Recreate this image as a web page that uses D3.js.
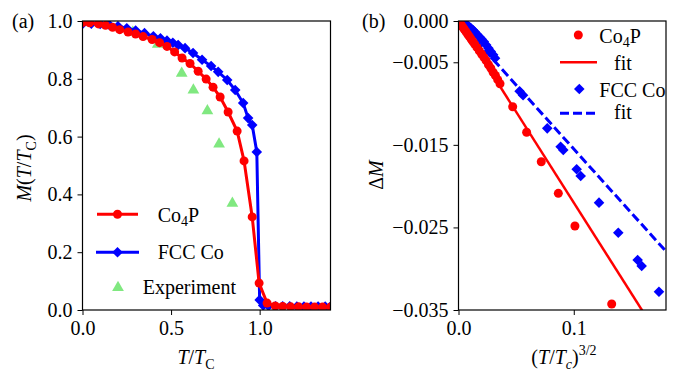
<!DOCTYPE html>
<html>
<head>
<meta charset="utf-8">
<script src="https://cdn.jsdelivr.net/npm/d3@7"></script>
<style>
  body { margin: 0; background: #fff; }
  svg { display: block; }
</style>
</head>
<body>
<div id="chart"></div>
<script>
// ---- panel (a): M(T/Tc) ----
const co4pT = [0.00, 0.04, 0.09, 0.13, 0.17, 0.21, 0.257, 0.30, 0.342, 0.393, 0.435, 0.477, 0.52, 0.562, 0.607, 0.653, 0.698, 0.737, 0.777, 0.822, 0.873, 0.912, 0.958, 0.997, 1.042, 1.088, 1.13, 1.175, 1.22, 1.265, 1.31, 1.355, 1.40]
const co4pM = [0.995, 0.994, 0.99, 0.985, 0.978, 0.97, 0.962, 0.955, 0.946, 0.936, 0.925, 0.912, 0.893, 0.872, 0.853, 0.826, 0.799, 0.771, 0.737, 0.685, 0.619, 0.516, 0.322, 0.093, 0.024, 0.014, 0.012, 0.011, 0.011, 0.010, 0.010, 0.010, 0.010]

const fccT = [0.00, 0.05, 0.10, 0.15, 0.20, 0.25, 0.30, 0.35, 0.40, 0.44, 0.477, 0.51, 0.54, 0.579, 0.624, 0.675, 0.726, 0.766, 0.817, 0.862, 0.907, 0.935, 0.958, 0.984, 1.00, 1.02, 1.05, 1.09, 1.13, 1.17, 1.21, 1.25, 1.29, 1.33, 1.37, 1.40]
const fccM = [0.990, 0.991, 0.990, 0.987, 0.982, 0.975, 0.967, 0.958, 0.947, 0.94, 0.932, 0.925, 0.917, 0.906, 0.889, 0.866, 0.844, 0.824, 0.796, 0.761, 0.716, 0.664, 0.640, 0.547, 0.035, 0.016, 0.014, 0.013, 0.013, 0.013, 0.012, 0.012, 0.012, 0.012, 0.012, 0.012]

const expT = [0.137, 0.284, 0.425, 0.560, 0.626, 0.705, 0.771, 0.846]
const expM = [0.994, 0.961, 0.919, 0.819, 0.761, 0.689, 0.574, 0.369]

const aXTicks = [0, 0.5, 1.0]
const aYTicks = [0, 0.2, 0.4, 0.6, 0.8, 1.0]

// ---- panel (b): Delta M vs (T/Tc)^(3/2) ----
const co4pX = [0.0005, 0.001, 0.002, 0.003, 0.004, 0.005, 0.0065, 0.008, 0.0095, 0.011, 0.0125, 0.014, 0.016, 0.018, 0.020, 0.022, 0.024, 0.026, 0.028, 0.030, 0.032, 0.034, 0.036, 0.047, 0.0591, 0.0718, 0.0866, 0.101, 0.1329]
const co4pD = [-0.0001, -0.0002, -0.0004, -0.0006, -0.0008, -0.001, -0.0013, -0.0016, -0.0019, -0.0022, -0.0025, -0.0028, -0.0032, -0.0036, -0.0040, -0.0044, -0.0048, -0.0053, -0.0057, -0.0062, -0.0066, -0.0071, -0.0076, -0.01038, -0.01348, -0.01704, -0.02087, -0.02483, -0.03427]

const fccX = [0.0005, 0.001, 0.002, 0.003, 0.004, 0.005, 0.0065, 0.008, 0.0095, 0.011, 0.0125, 0.014, 0.016, 0.018, 0.020, 0.022, 0.024, 0.026, 0.028, 0.030, 0.0317, 0.053, 0.056, 0.077, 0.0886, 0.0909, 0.1025, 0.106, 0.1219, 0.1386, 0.1554, 0.1589, 0.1739]
const fccD = [-0.00001, -0.00002, -0.00007, -0.00013, -0.0002, -0.00028, -0.0004, -0.00056, -0.00072, -0.0009, -0.0011, -0.0013, -0.0016, -0.0019, -0.0022, -0.0025, -0.0029, -0.0033, -0.0037, -0.0041, -0.0045, -0.0085, -0.0090, -0.0130, -0.01522, -0.01562, -0.01796, -0.01877, -0.0220, -0.02564, -0.02894, -0.02967, -0.03278]

// fit lines: endpoints (x, dM)
const co4pFitX = [0, 0.18]
const co4pFitD = [0, -0.0396]
const fccFitX = [0, 0.18]
const fccFitD = [0, -0.0279]

const bXTicks = [0, 0.1]
const bYTicks = [0, -0.005, -0.015, -0.025, -0.035]

const red = '#ff0000'
const blue = '#0000ff'
const green = '#80e880'
const fontSize = 20
const serif = 'Liberation Serif'

const width = 689
const height = 375

const svg = d3.select('#chart').append('svg')
  .attr('width', width)
  .attr('height', height)
  .attr('font-family', serif)

const diamond = d3.symbol().type(d3.symbolSquare).size(56)
const triangle = d3.symbol().type(d3.symbolTriangle).size(60)

const styleAxis = (g) => {
  g.attr('font-family', serif).attr('font-size', fontSize)
  g.select('.domain').remove()
  g.selectAll('.tick line').attr('stroke', '#000').attr('stroke-width', 1)
  g.selectAll('.tick text')
    .attr('fill', '#000')
    .attr('font-family', serif)
    .attr('font-size', fontSize)
}

const addText = (x, y, str) =>
  svg.append('text')
    .attr('x', x).attr('y', y)
    .attr('font-family', serif)
    .attr('font-size', fontSize)
    .text(str)

const frame = (x0, x1, y0, y1) => {
  svg.append('rect')
    .attr('x', x0).attr('y', y1)
    .attr('width', x1 - x0).attr('height', y0 - y1)
    .attr('fill', 'none').attr('stroke', '#000').attr('stroke-width', 1.2)
}

// ================= panel (a) =================
const ax = d3.scaleLinear().domain([0, 1.4]).range([82.5, 330.5])
const ay = d3.scaleLinear().domain([0, 1]).range([310, 21])

svg.append('clipPath').attr('id', 'clipA')
  .append('rect').attr('x', 82.5).attr('y', 21).attr('width', 248).attr('height', 289)

const gA = svg.append('g').attr('clip-path', 'url(#clipA)')
const aLine = d3.line().x((d) => ax(d[0])).y((d) => ay(d[1]))

const fccA = fccT.map((t, i) => [t, fccM[i]])
const co4pA = co4pT.map((t, i) => [t, co4pM[i]])
const expA = expT.map((t, i) => [t, expM[i]])

gA.selectAll('.expTri').data(expA).join('path')
  .attr('class', 'expTri')
  .attr('d', triangle)
  .attr('transform', (d) => `translate(${ax(d[0])},${ay(d[1])})`)
  .attr('fill', green)

gA.append('path').datum(fccA)
  .attr('fill', 'none').attr('stroke', blue).attr('stroke-width', 3)
  .attr('d', aLine)
gA.selectAll('.fccA').data(fccA).join('path')
  .attr('class', 'fccA')
  .attr('d', diamond)
  .attr('transform', (d) => `translate(${ax(d[0])},${ay(d[1])}) rotate(45)`)
  .attr('fill', blue)

gA.append('path').datum(co4pA)
  .attr('fill', 'none').attr('stroke', red).attr('stroke-width', 3)
  .attr('d', aLine)
gA.selectAll('.co4pA').data(co4pA).join('circle')
  .attr('class', 'co4pA')
  .attr('cx', (d) => ax(d[0]))
  .attr('cy', (d) => ay(d[1]))
  .attr('r', 4.5)
  .attr('fill', red)

svg.append('g')
  .attr('transform', 'translate(0,310)')
  .call(d3.axisBottom(ax).tickValues(aXTicks).tickFormat(d3.format('.1f')).tickSize(5).tickPadding(6))
  .call(styleAxis)
svg.append('g')
  .attr('transform', 'translate(82.5,0)')
  .call(d3.axisLeft(ay).tickValues(aYTicks).tickFormat(d3.format('.1f')).tickSize(5).tickPadding(5))
  .call(styleAxis)
frame(82.5, 330.5, 310, 21)

// panel (a) labels
addText(12, 28, '(a)')

const yLabA = svg.append('text')
  .attr('transform', 'translate(31,168) rotate(-90)')
  .attr('text-anchor', 'middle')
  .attr('font-size', fontSize)
yLabA.append('tspan').attr('font-style', 'italic').text('M')
yLabA.append('tspan').text('(')
yLabA.append('tspan').attr('font-style', 'italic').text('T')
yLabA.append('tspan').text('/')
yLabA.append('tspan').attr('font-style', 'italic').text('T')
yLabA.append('tspan').attr('dy', 5).attr('font-size', 14).text('C')
yLabA.append('tspan').attr('dy', -5).text(')')

const xLabA = svg.append('text')
  .attr('x', 196).attr('y', 364)
  .attr('text-anchor', 'middle')
  .attr('font-size', fontSize)
xLabA.append('tspan').attr('font-style', 'italic').text('T')
xLabA.append('tspan').text('/')
xLabA.append('tspan').attr('font-style', 'italic').text('T')
xLabA.append('tspan').attr('dy', 5).attr('font-size', 14).text('C')

// panel (a) legend
svg.append('line').attr('x1', 97).attr('x2', 138).attr('y1', 214.3).attr('y2', 214.3)
  .attr('stroke', red).attr('stroke-width', 3)
svg.append('circle').attr('cx', 117.5).attr('cy', 214.3).attr('r', 4.5).attr('fill', red)
const legCo = addText(157.7, 221.5, '')
legCo.append('tspan').text('Co')
legCo.append('tspan').attr('dy', 4).attr('font-size', 14).text('4')
legCo.append('tspan').attr('dy', -4).text('P')

svg.append('line').attr('x1', 96).attr('x2', 139).attr('y1', 252.3).attr('y2', 252.3)
  .attr('stroke', blue).attr('stroke-width', 3)
svg.append('path').attr('d', diamond)
  .attr('transform', 'translate(117.5,252.3) rotate(45)').attr('fill', blue)
addText(157.7, 259.3, 'FCC Co')

svg.append('path').attr('d', triangle)
  .attr('transform', 'translate(118,287.5)').attr('fill', green)
addText(142.7, 294.3, 'Experiment')

// ================= panel (b) =================
const bx = d3.scaleLinear().domain([0, 0.18]).range([458.5, 666])
const by = d3.scaleLinear().domain([-0.035, 0]).range([310, 21])

svg.append('clipPath').attr('id', 'clipB')
  .append('rect').attr('x', 458.5).attr('y', 21).attr('width', 207.5).attr('height', 289)

const gB = svg.append('g').attr('clip-path', 'url(#clipB)')
const bLine = d3.line().x((d) => bx(d[0])).y((d) => by(d[1]))

const co4pB = co4pX.map((x, i) => [x, co4pD[i]])
const fccB = fccX.map((x, i) => [x, fccD[i]])

gB.append('path').datum(fccFitX.map((x, i) => [x, fccFitD[i]]))
  .attr('fill', 'none').attr('stroke', blue).attr('stroke-width', 3)
  .attr('stroke-dasharray', '9,4')
  .attr('d', bLine)
gB.selectAll('.fccB').data(fccB).join('path')
  .attr('class', 'fccB')
  .attr('d', diamond)
  .attr('transform', (d) => `translate(${bx(d[0])},${by(d[1])}) rotate(45)`)
  .attr('fill', blue)

gB.append('path').datum(co4pFitX.map((x, i) => [x, co4pFitD[i]]))
  .attr('fill', 'none').attr('stroke', red).attr('stroke-width', 2.5)
  .attr('d', bLine)
gB.selectAll('.co4pB').data(co4pB).join('circle')
  .attr('class', 'co4pB')
  .attr('cx', (d) => bx(d[0]))
  .attr('cy', (d) => by(d[1]))
  .attr('r', 4.5)
  .attr('fill', red)

svg.append('g')
  .attr('transform', 'translate(0,310)')
  .call(d3.axisBottom(bx).tickValues(bXTicks).tickFormat(d3.format('.1f')).tickSize(5).tickPadding(6))
  .call(styleAxis)
svg.append('g')
  .attr('transform', 'translate(458.5,0)')
  .call(d3.axisLeft(by).tickValues(bYTicks).tickFormat(d3.format('.3f')).tickSize(5).tickPadding(5))
  .call(styleAxis)
frame(458.5, 666, 310, 21)

addText(362, 28, '(b)')

const yLabB = svg.append('text')
  .attr('transform', 'translate(383,175) rotate(-90)')
  .attr('text-anchor', 'middle')
  .attr('font-size', fontSize)
yLabB.append('tspan').text('Δ')
yLabB.append('tspan').attr('font-style', 'italic').text('M')

const xLabB = svg.append('text')
  .attr('x', 564).attr('y', 364)
  .attr('text-anchor', 'middle')
  .attr('font-size', fontSize)
xLabB.append('tspan').text('(')
xLabB.append('tspan').attr('font-style', 'italic').text('T')
xLabB.append('tspan').text('/')
xLabB.append('tspan').attr('font-style', 'italic').text('T')
xLabB.append('tspan').attr('dy', 5).attr('font-size', 14).attr('font-style', 'italic').text('c')
xLabB.append('tspan').attr('dy', -5).text(')')
xLabB.append('tspan').attr('dy', -9).attr('font-size', 14).text('3/2')

// panel (b) legend
svg.append('circle').attr('cx', 578.3).attr('cy', 35).attr('r', 4.5).attr('fill', red)
const legCoB = addText(599.3, 43, '')
legCoB.append('tspan').text('Co')
legCoB.append('tspan').attr('dy', 4).attr('font-size', 14).text('4')
legCoB.append('tspan').attr('dy', -4).text('P')

svg.append('line').attr('x1', 560).attr('x2', 597).attr('y1', 62.3).attr('y2', 62.3)
  .attr('stroke', red).attr('stroke-width', 2.5)
addText(614, 70, 'fit')

svg.append('path').attr('d', diamond)
  .attr('transform', 'translate(579.3,89) rotate(45)').attr('fill', blue)
addText(599.3, 96.7, 'FCC Co')

svg.append('line').attr('x1', 560).attr('x2', 597).attr('y1', 113.3).attr('y2', 113.3)
  .attr('stroke', blue).attr('stroke-width', 3).attr('stroke-dasharray', '9,4')
addText(614, 119.3, 'fit')
</script>
</body>
</html>
